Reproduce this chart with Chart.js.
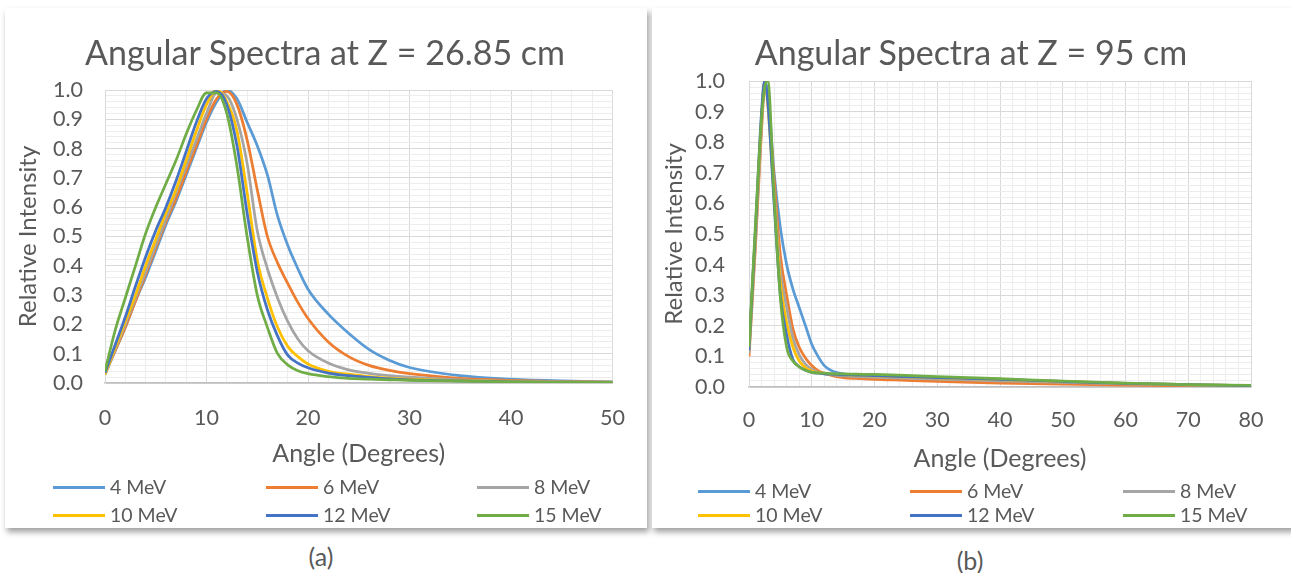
<!DOCTYPE html>
<html>
<head>
<meta charset="utf-8">
<script src="https://cdn.jsdelivr.net/npm/chart.js@4.4.0/dist/chart.umd.min.js"></script>
<style>
  body { margin: 0; background: #fff; width: 1291px; height: 573px; overflow: hidden; position: relative; font-family: Lato, sans-serif; color: #595959; }
  .card { position: absolute; top: 8px; height: 520px; background: #fff; box-shadow: 2px 4px 6px rgba(0,0,0,0.38); }
  #cardA { left: 5px; width: 642px; }
  #cardB { left: 652px; width: 645px; }
  .card canvas { position: absolute; left: 0; top: 0; }
  .ttl { position: absolute; font-size: 34px; line-height: 40px; white-space: nowrap; transform: translate(-50%, -50%); }
  .item { position: absolute; height: 20px; font-size: 19.5px; line-height: 20px; white-space: nowrap; }
  .item i { position: absolute; left: 0; top: 9px; width: 52px; height: 3px; }
  .item span { position: absolute; left: 57px; top: 0; }
  .cap { position: absolute; font-size: 25px; transform: translate(-50%, -50%); }
</style>
</head>
<body>
<div class="card" id="cardA"><canvas id="chartA" width="642" height="520"></canvas><div class="ttl" style="left:320px;top:44px">Angular Spectra at Z = 26.85 cm</div></div>
<div class="card" id="cardB"><canvas id="chartB" width="645" height="520"></canvas><div class="ttl" style="left:319px;top:44px">Angular Spectra at Z = 95 cm</div></div>
<div class="cap" style="left:321px;top:556px">(a)</div>
<div class="cap" style="left:970px;top:560px">(b)</div>

<script>
const seriesNames = ['4 MeV', '6 MeV', '8 MeV', '10 MeV', '12 MeV', '15 MeV'];
const seriesColors = ['#5B9BD5', '#ED7D31', '#A5A5A5', '#FFC000', '#4472C4', '#70AD47'];

// Z = 26.85 cm
const angleA = [0, 1, 2, 3, 4, 5, 6, 7, 8, 9, 10, 11, 12, 13, 14, 15, 16, 17, 18, 19, 20, 22, 24, 26, 28, 30, 35, 40, 45, 50];
const a4  = [0.03, 0.11, 0.19, 0.28, 0.36, 0.45, 0.54, 0.62, 0.71, 0.80, 0.89, 0.96, 1.0, 0.97, 0.89, 0.81, 0.71, 0.57, 0.47, 0.39, 0.32, 0.235, 0.17, 0.115, 0.078, 0.053, 0.025, 0.013, 0.007, 0.004];
const a6  = [0.03, 0.11, 0.19, 0.28, 0.37, 0.46, 0.55, 0.63, 0.72, 0.81, 0.90, 0.97, 0.995, 0.95, 0.83, 0.66, 0.50, 0.41, 0.34, 0.275, 0.22, 0.14, 0.09, 0.06, 0.043, 0.032, 0.016, 0.009, 0.005, 0.003];
const a8  = [0.03, 0.115, 0.20, 0.29, 0.38, 0.47, 0.56, 0.65, 0.74, 0.83, 0.92, 0.99, 0.98, 0.90, 0.75, 0.52, 0.39, 0.29, 0.21, 0.15, 0.11, 0.068, 0.045, 0.033, 0.025, 0.02, 0.011, 0.006, 0.004, 0.002];
const a10 = [0.03, 0.12, 0.21, 0.30, 0.40, 0.49, 0.58, 0.66, 0.76, 0.86, 0.95, 1.0, 0.96, 0.86, 0.65, 0.42, 0.29, 0.19, 0.125, 0.09, 0.065, 0.04, 0.03, 0.022, 0.017, 0.013, 0.008, 0.005, 0.003, 0.002];
const a12 = [0.035, 0.13, 0.225, 0.33, 0.43, 0.52, 0.60, 0.69, 0.79, 0.89, 0.97, 0.995, 0.95, 0.81, 0.58, 0.38, 0.25, 0.16, 0.095, 0.068, 0.052, 0.034, 0.025, 0.019, 0.014, 0.011, 0.007, 0.004, 0.003, 0.002];
const a15 = [0.04, 0.18, 0.29, 0.40, 0.51, 0.60, 0.68, 0.76, 0.85, 0.93, 0.99, 0.99, 0.92, 0.74, 0.50, 0.30, 0.19, 0.10, 0.062, 0.042, 0.032, 0.022, 0.016, 0.013, 0.011, 0.009, 0.006, 0.004, 0.002, 0.002];

// Z = 95 cm
const angleB = [0, 1, 2, 2.5, 3, 4, 5, 6, 7, 8, 9, 10, 11, 12, 13, 14, 15, 17, 20, 25, 30, 40, 50, 60, 70, 80];
const b4  = [0.12, 0.50, 0.87, 1.0, 0.96, 0.70, 0.52, 0.40, 0.32, 0.26, 0.20, 0.14, 0.10, 0.07, 0.055, 0.047, 0.043, 0.039, 0.036, 0.033, 0.029, 0.023, 0.016, 0.010, 0.006, 0.003];
const b6  = [0.10, 0.45, 0.84, 0.98, 0.95, 0.68, 0.43, 0.30, 0.19, 0.13, 0.095, 0.07, 0.053, 0.045, 0.039, 0.034, 0.031, 0.028, 0.025, 0.022, 0.018, 0.013, 0.009, 0.006, 0.004, 0.002];
const b8  = [0.11, 0.47, 0.86, 0.99, 0.93, 0.64, 0.38, 0.26, 0.16, 0.105, 0.075, 0.058, 0.048, 0.043, 0.040, 0.038, 0.036, 0.034, 0.032, 0.029, 0.026, 0.020, 0.015, 0.010, 0.006, 0.003];
const b10 = [0.12, 0.49, 0.88, 1.0, 0.92, 0.62, 0.34, 0.21, 0.13, 0.085, 0.063, 0.052, 0.047, 0.044, 0.042, 0.041, 0.040, 0.038, 0.036, 0.033, 0.030, 0.024, 0.018, 0.012, 0.008, 0.004];
const b12 = [0.12, 0.50, 0.90, 1.0, 0.93, 0.60, 0.30, 0.17, 0.09, 0.066, 0.055, 0.048, 0.045, 0.043, 0.042, 0.041, 0.040, 0.039, 0.037, 0.034, 0.031, 0.025, 0.018, 0.012, 0.008, 0.004];
const b15 = [0.13, 0.52, 0.88, 0.98, 1.0, 0.62, 0.29, 0.13, 0.085, 0.066, 0.055, 0.048, 0.046, 0.045, 0.044, 0.043, 0.043, 0.042, 0.041, 0.038, 0.034, 0.027, 0.019, 0.013, 0.008, 0.005];

const TEXT = '#595959';
const MAJOR = '#d9d9d9';
const MINOR = '#ededed';

function datasets(angles, rows) {
  return rows.map((vals, i) => ({
    label: seriesNames[i],
    data: angles.map((a, j) => ({ x: a, y: vals[j] })),
    borderColor: seriesColors[i],
    backgroundColor: seriesColors[i],
    borderWidth: 2.75,
    pointRadius: 0,
    cubicInterpolationMode: 'monotone',
    order: rows.length - i
  }));
}

function makeChart(id, angles, rows, xMax, lay) {
  new Chart(document.getElementById(id), {
    type: 'line',
    data: { datasets: datasets(angles, rows) },
    options: {
      responsive: false,
      animation: false,
      layout: { padding: { left: 0, right: lay.right, top: lay.top, bottom: lay.bottom } },
      plugins: {
        legend: { display: false },
        tooltip: { enabled: false },
        title: { display: false }
      },
      scales: {
        x: {
          type: 'linear', min: 0, max: xMax,
          ticks: {
            stepSize: 2, autoSkip: false, maxRotation: 0, padding: lay.xPad,
            color: TEXT, font: { family: 'Lato', size: 21.5 },
            callback: v => (v % 10 === 0 ? v : '')
          },
          grid: { drawTicks: false, color: c => (c.tick && c.tick.value % 10 === 0 ? MAJOR : MINOR), lineWidth: 1 },
          border: { color: '#bfbfbf', width: 1.5 },
          title: {
            display: true, text: 'Angle (Degrees)', color: TEXT,
            font: { family: 'Lato', size: 25 }, padding: { top: 0, bottom: 0 }
          },
          afterFit: s => { s.height = lay.xH; }
        },
        y: {
          min: 0, max: 1,
          ticks: {
            stepSize: 0.02, autoSkip: false, padding: lay.yPad,
            color: TEXT, font: { family: 'Lato', size: 21.5 },
            callback: v => { const k = Math.round(v * 50); return k % 5 === 0 ? (k / 50).toFixed(1) : ''; }
          },
          grid: { drawTicks: false, color: c => (c.tick && Math.round(c.tick.value * 50) % 5 === 0 ? MAJOR : MINOR), lineWidth: 1 },
          border: { color: MAJOR },
          title: {
            display: true, text: 'Relative Intensity', color: TEXT,
            font: { family: 'Lato', size: 24 }, padding: { top: lay.yTitle, bottom: 0 }
          },
          afterFit: s => { s.width = lay.yW; }
        }
      }
    }
  });
}

function makeLegend(cardId, cols, rowsY) {
  const card = document.getElementById(cardId);
  seriesNames.forEach((name, i) => {
    const el = document.createElement('div');
    el.className = 'item';
    el.style.left = cols[i % 3] + 'px';
    el.style.top = (rowsY[Math.floor(i / 3)] - 10) + 'px';
    el.innerHTML = '<i style="background:' + seriesColors[i] + '"></i><span>' + name + '</span>';
    card.appendChild(el);
  });
}

makeChart('chartA', angleA, [a4, a6, a8, a10, a12, a15], 50,
  { top: 82, right: 34, bottom: 59, xPad: 22, xH: 86, yPad: 22, yTitle: 9, yW: 100 });
makeChart('chartB', angleB, [b4, b6, b8, b10, b12, b15], 80,
  { top: 73, right: 46, bottom: 54, xPad: 20, xH: 87, yPad: 24, yTitle: 8, yW: 97 });

makeLegend('cardA', [48, 261, 472], [479, 507]);
makeLegend('cardB', [46, 258, 471], [483, 507]);
</script>
</body>
</html>
